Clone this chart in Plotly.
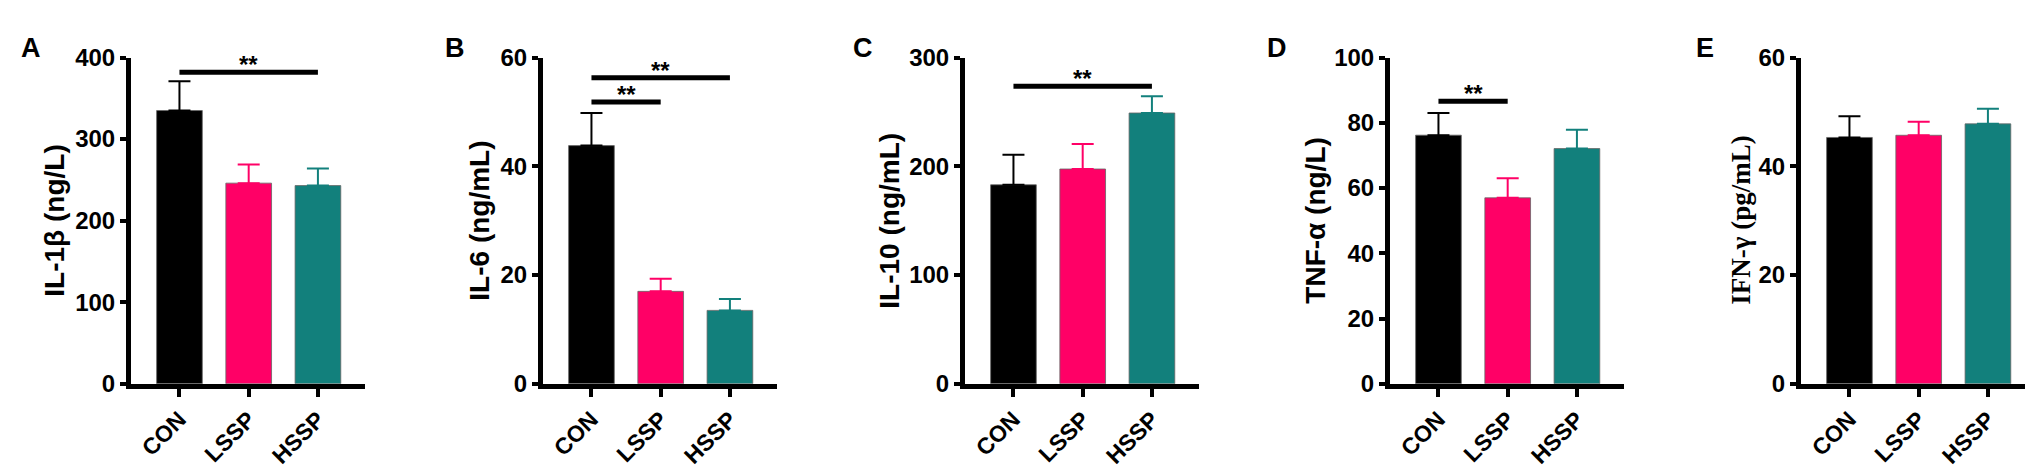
import plotly.graph_objects as go

# group labels and colours
groups = ['CON', 'LSSP', 'HSSP']
colors = ['#000000', '#FF0066', '#12807C']

# mean values and upper error bar ends
il1b_mean = [335, 246, 243]
il1b_top = [371, 269, 264]
il6_mean = [43.8, 17.0, 13.5]
il6_top = [49.8, 19.3, 15.6]
il10_mean = [183, 197.5, 249]
il10_top = [210.5, 220.6, 264.5]
tnfa_mean = [76.2, 57.0, 72.1]
tnfa_top = [83.0, 63.0, 77.9]
ifng_mean = [45.3, 45.7, 47.8]
ifng_top = [49.2, 48.2, 50.6]

letters = ['A', 'B', 'C', 'D', 'E']
y_titles = ['IL-1β (ng/L)', 'IL-6 (ng/mL)', 'IL-10 (ng/mL)', 'TNF-α (ng/L)', 'IFN-γ (pg/mL)']
y_max = [400, 60, 300, 100, 60]
y_step = [100, 20, 100, 20, 20]

# significance brackets: (panel, from group, to group, height)
sig_panel = [0, 1, 1, 2, 3]
sig_from = [0, 0, 0, 0, 0]
sig_to = [2, 1, 2, 2, 1]
sig_y = [382, 51.8, 56.3, 273.5, 86.6]

means = [il1b_mean, il6_mean, il10_mean, tnfa_mean, ifng_mean]
tops = [il1b_top, il6_top, il10_top, tnfa_top, ifng_top]

W, H = 2033, 467
axis_px = [123, 535, 957, 1382, 1793]  # left edge (y axis) of each panel
panel_w = 234
y_bot, y_top = 1 - 384 / H, 1 - 37.7 / H
title_px = [47, 472, 882, 1308, 1733]
letter_px = [23, 447, 855, 1269, 1697]

sans = 'Liberation Sans, Arial, sans-serif'
serif = 'Liberation Serif, Times New Roman, serif'

fig = go.Figure()
layout = {}
annotations = []
shapes = []

for p in range(5):
    xa = 'x' if p == 0 else 'x%d' % (p + 1)
    ya = 'y' if p == 0 else 'y%d' % (p + 1)
    for i, g in enumerate(groups):
        fig.add_trace(go.Bar(
            x=[g], y=[means[p][i]], xaxis=xa, yaxis=ya,
            marker=dict(color=colors[i], line=dict(width=0.8, color='#666666')),
            width=0.66, showlegend=False,
            error_y=dict(type='data', symmetric=False,
                         array=[tops[p][i] - means[p][i]], arrayminus=[0],
                         color=colors[i], thickness=2, width=11)))

    x0 = axis_px[p] / W
    x1 = (axis_px[p] + panel_w) / W
    layout['xaxis' if p == 0 else 'xaxis%d' % (p + 1)] = dict(
        domain=[x0, x1], anchor=ya, range=[-0.7, 2.68],
        categoryorder='array', categoryarray=groups,
        showline=True, linewidth=5, linecolor='black',
        ticks='outside', ticklen=8, tickwidth=4, tickcolor='black',
        tickangle=-45, showgrid=False, zeroline=False,
        tickfont=dict(family=sans, size=23, color='black', weight='bold'))
    layout['yaxis' if p == 0 else 'yaxis%d' % (p + 1)] = dict(
        domain=[y_bot, y_top], anchor=xa, range=[0, y_max[p]],
        tickvals=list(range(0, y_max[p] + 1, y_step[p])),
        showline=True, linewidth=5, linecolor='black',
        ticks='outside', ticklen=6, tickwidth=4, tickcolor='black',
        showgrid=False, zeroline=False,
        tickfont=dict(family=sans, size=24, color='black', weight='bold'))

    annotations.append(dict(
        text=y_titles[p], xref='paper', yref='paper',
        x=title_px[p] / W, y=(y_bot + y_top) / 2, textangle=-90,
        showarrow=False, xanchor='center', yanchor='middle',
        font=dict(family=serif if p == 4 else sans, size=28 if p < 4 else 27,
                  color='black', weight='bold')))
    annotations.append(dict(
        text=letters[p], xref='paper', yref='paper',
        x=letter_px[p] / W, y=1 - 27.5 / H, showarrow=False,
        xanchor='center', yanchor='middle',
        font=dict(family=sans, size=27, color='black', weight='bold')))

for k in range(len(sig_panel)):
    p = sig_panel[k]
    xr = 'x' if p == 0 else 'x%d' % (p + 1)
    yr = 'y' if p == 0 else 'y%d' % (p + 1)
    shapes.append(dict(type='line', xref=xr, yref=yr,
                       x0=groups[sig_from[k]], x1=groups[sig_to[k]],
                       y0=sig_y[k], y1=sig_y[k],
                       line=dict(color='black', width=5)))
    annotations.append(dict(
        text='**', xref=xr, yref=yr,
        x=(sig_from[k] + sig_to[k]) / 2, y=sig_y[k], showarrow=False,
        xanchor='center', yanchor='bottom', yshift=-8,
        font=dict(family=sans, size=24, color='black', weight='bold')))

fig.update_layout(**layout)
fig.update_layout(
    width=W, height=H, margin=dict(l=0, r=0, t=0, b=0),
    paper_bgcolor='white', plot_bgcolor='white',
    annotations=annotations, shapes=shapes, bargap=0.3)

fig.write_html('out.html')
